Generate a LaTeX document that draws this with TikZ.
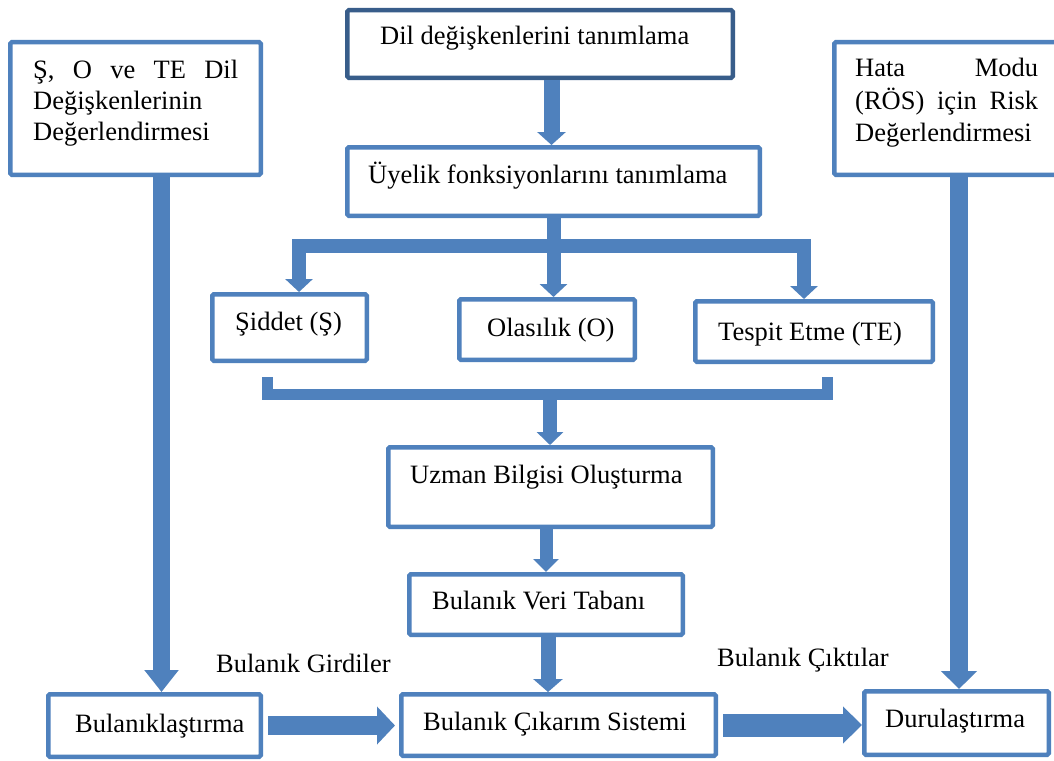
\documentclass[tikz,border=0pt]{standalone}
\usepackage{fontspec}
\setmainfont{Liberation Serif}
\usetikzlibrary{arrows.meta}
\definecolor{boxblue}{HTML}{4F81BD}
\definecolor{darkblue}{HTML}{385D8A}
\definecolor{pipeblue}{HTML}{4F81BD}
\begin{document}
\begin{tikzpicture}[x=1pt,y=-1pt,
  box/.style={draw=boxblue, line width=4.5pt, rounded corners=1.5pt, fill=white, inner sep=0pt},
  txt/.style={font=\fontsize{26.5}{32}\selectfont, inner sep=0pt, anchor=base west},
  pipe/.style={draw=pipeblue, line cap=butt, line join=miter},
  vtip/.style={-{Triangle[width=#1pt,length=13pt]}},
]
\useasboundingbox[fill=white] (0,0) rectangle (1054,760);

% boxes
\node[box, minimum width=250.5pt, minimum height=132.5pt] (lb)  at (135.5,108.5) {};
\node[box, draw=darkblue, minimum width=385.5pt, minimum height=67.5pt] (dil) at (540,44) {};
\node[box, minimum width=223.5pt, minimum height=132.5pt] (rb)  at (946,108.5) {};
\node[box, minimum width=412.5pt, minimum height=68.5pt] (uye) at (553.5,181.5) {};
\node[box, minimum width=154.5pt, minimum height=66.5pt] (sid) at (289.5,327.5) {};
\node[box, minimum width=175.5pt, minimum height=60.5pt] (ola) at (547,329.5) {};
\node[box, minimum width=237.5pt, minimum height=60.5pt] (te)  at (814,331.5) {};
\node[box, minimum width=324.5pt, minimum height=79.5pt] (uzm) at (550.5,487) {};
\node[box, minimum width=273.5pt, minimum height=60.5pt] (bvt) at (546,604.5) {};
\node[box, minimum width=212.5pt, minimum height=62.5pt] (bul) at (154.5,725.5) {};
\node[box, minimum width=314.5pt, minimum height=61.5pt] (bcs) at (558.5,725) {};
\node[box, minimum width=184.5pt, minimum height=63.5pt] (dur) at (956.5,723) {};

% texts
\node[txt] (lb-1) at (33,78)  {\hbox to 205pt{Ş,\hfill O\hfill ve\hfill TE\hfill Dil}};
\node[txt] (lb-2) at (33,109) {Değişkenlerinin};
\node[txt] (lb-3) at (33,140) {Değerlendirmesi};
\node[txt] (rb-1) at (855,77)  {\hbox to 183pt{Hata\hfill Modu}};
\node[txt] (rb-2) at (855,109) {\hbox to 183pt{(RÖS)\hfill için\hfill Risk}};
\node[txt] (rb-3) at (855,141) {Değerlendirmesi};
\node[txt] (dil-t) at (380,45)  {Dil değişkenlerini tanımlama};
\node[txt] (uye-t) at (368,183) {Üyelik fonksiyonlarını tanımlama};
\node[txt] (sid-t) at (235,330) {Şiddet (Ş)};
\node[txt] (ola-t) at (487,336) {Olasılık (O)};
\node[txt] (te-t)  at (718,340) {Tespit Etme (TE)};
\node[txt] (uzm-t) at (410,483) {Uzman Bilgisi Oluşturma};
\node[txt] (bvt-t) at (432,609) {Bulanık Veri Tabanı};
\node[txt] (bul-t) at (75,732)  {Bulanıklaştırma};
\node[txt] (bcs-t) at (423,730) {Bulanık Çıkarım Sistemi};
\node[txt] (dur-t) at (885,727) {Durulaştırma};
\node[txt] (gir)   at (216,672) {Bulanık Girdiler};
\node[txt] (cik)   at (717,666) {Bulanık Çıktılar};

% vertical connectors
\draw[pipe, line width=16pt, vtip=28] (551.5,0 |- dil.south) -- (551.5,0 |- uye.north);
\draw[pipe, line width=14pt, vtip=27] (uye.south) -- (uye.south |- ola.north);
\draw[pipe, line width=14pt, {Triangle[width=27pt,length=13pt]}-{Triangle[width=27pt,length=13pt]}]
  (299,0 |- sid.north) -- (299,246) -- (804,246) -- (804,0 |- te.north);

% merging bar below the three inputs
\coordinate (mL) at (267.5,377);
\coordinate (mR) at (827.5,377);
\coordinate (mC) at (550,394.5);
\draw[pipe, line width=11.5pt] (mL) -- (267.5,394.5) -- (827.5,394.5) -- (mR);
\draw[pipe, line width=14pt, vtip=26] (mC) -- (mC |- uzm.north);

\draw[pipe, line width=13pt, vtip=25] (uzm.south -| bvt.north) -- (bvt.north);
\draw[pipe, line width=15pt, vtip=29] (548,0 |- bvt.south) -- (548,0 |- bcs.north);

% long side connectors
\draw[pipe, line width=17pt, -{Triangle[width=33pt,length=22pt]}] (161.5,0 |- lb.south) -- (161.5,0 |- bul.north);
\draw[pipe, line width=18pt, -{Triangle[width=35pt,length=18pt]}] (959,0 |- rb.south) -- (959,0 |- dur.north);

% horizontal connectors
\draw[pipe, line width=19pt, -{Triangle[width=37pt,length=18pt]}] ([xshift=5pt]bul.east) -- ([xshift=-4pt]bcs.west |- bul.east);
\draw[pipe, line width=23pt, -{Triangle[width=36pt,length=19pt]}] ([xshift=5pt]bcs.east) -- (dur.west |- bcs.east);
\end{tikzpicture}
\end{document}
